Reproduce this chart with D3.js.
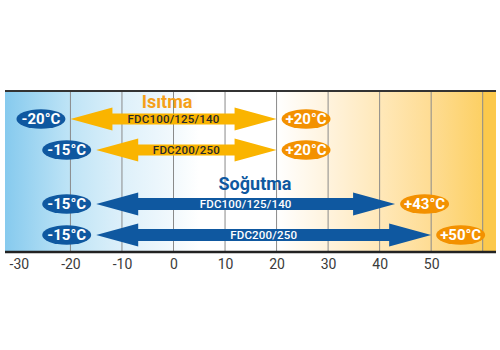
<!DOCTYPE html>
<html>
<head>
<meta charset="utf-8">
<script src="https://cdn.jsdelivr.net/npm/d3@7"></script>
<style>
  body { margin: 0; background: #fff; }
  text { font-family: Roboto, "DejaVu Sans", sans-serif; }
</style>
</head>
<body>
<svg id="chart"></svg>
<script>
// data
const heatModels = ["FDC100/125/140", "FDC200/250"];
const heatMin = [-20, -15];
const heatMax = [20, 20];
const coolModels = ["FDC100/125/140", "FDC200/250"];
const coolMin = [-15, -15];
const coolMax = [43, 50];
const tickValues = [-30, -20, -10, 0, 10, 20, 30, 40, 50];
const gridValues = [-20, -10, 0, 10, 20, 30, 40, 50, 60];

const w = 500;
const h = 350;
const plotLeft = 5, plotRight = 496, plotTop = 91, plotBottom = 252;
const orange = "#fab400";
const blue = "#0f58a0";
const pillOrange = "#f39100";

const svg = d3.select("#chart").attr("width", w).attr("height", h);

const x = d3.scaleLinear().domain([-30, 60]).range([18.9, 482.7]);

// background gradient
const defs = svg.append("defs");
const grad = defs.append("linearGradient")
  .attr("id", "bg")
  .attr("gradientUnits", "userSpaceOnUse")
  .attr("x1", plotLeft).attr("x2", plotRight).attr("y1", 0).attr("y2", 0);
[
  [plotLeft, "#86caee"], [x(-20), "#bfe4f6"], [x(-10), "#ddf0fa"], [x(0), "#f2f9fd"],
  [x(5), "#ffffff"], [x(20), "#ffffff"], [x(30), "#fff3dd"], [x(40), "#ffe8b9"],
  [x(50), "#fedc93"], [x(60) - 0.5, "#fcd064"], [x(60) + 0.5, "#fcc94c"], [plotRight, "#fcc94c"]
].forEach(([px, c]) => {
  grad.append("stop")
    .attr("offset", (px - plotLeft) / (plotRight - plotLeft))
    .attr("stop-color", c);
});

svg.append("rect")
  .attr("x", plotLeft).attr("y", plotTop)
  .attr("width", plotRight - plotLeft).attr("height", plotBottom - plotTop)
  .attr("fill", "url(#bg)");

// gridlines
svg.append("g")
  .selectAll("line")
  .data(gridValues)
  .join("line")
  .attr("x1", d => x(d)).attr("x2", d => x(d))
  .attr("y1", plotTop).attr("y2", plotBottom)
  .attr("stroke", "#8a8a8a")
  .attr("stroke-width", 1);

// top and bottom border
svg.append("line")
  .attr("x1", plotLeft).attr("x2", plotRight).attr("y1", plotTop).attr("y2", plotTop)
  .attr("stroke", "#333").attr("stroke-width", 2);
svg.append("line")
  .attr("x1", plotLeft).attr("x2", plotRight).attr("y1", plotBottom).attr("y2", plotBottom)
  .attr("stroke", "#222").attr("stroke-width", 2.5);

// axis labels
const xAxis = d3.axisBottom(x).tickValues(tickValues).tickSize(0).tickPadding(6)
  .tickFormat(d3.format("d"));
const axisG = svg.append("g")
  .attr("transform", "translate(0," + (plotBottom + 1) + ")")
  .call(xAxis);
axisG.select(".domain").remove();
axisG.selectAll("text")
  .attr("font-size", 14)
  .attr("fill", "#3a3a3a")
  .style("font-family", "Roboto, sans-serif")
  .text(d => d < 0 ? "-" + Math.abs(d) : d);

// rows
const rows = [
  { model: heatModels[0], lo: heatMin[0], hi: heatMax[0], color: orange, textColor: "#2a2a2a", y: 119, shaft: 11 },
  { model: heatModels[1], lo: heatMin[1], hi: heatMax[1], color: orange, textColor: "#2a2a2a", y: 150, shaft: 11 },
  { model: coolModels[0], lo: coolMin[0], hi: coolMax[0], color: blue, textColor: "#ffffff", y: 204, shaft: 12 },
  { model: coolModels[1], lo: coolMin[1], hi: coolMax[1], color: blue, textColor: "#ffffff", y: 235, shaft: 12 },
];

const headLen = 42, headH = 23;
function arrowPath(x0, x1, y, s) {
  const hs = s / 2, hh = headH / 2;
  return [
    [x0, y], [x0 + headLen, y - hh], [x0 + headLen, y - hs],
    [x1 - headLen, y - hs], [x1 - headLen, y - hh], [x1, y],
    [x1 - headLen, y + hh], [x1 - headLen, y + hs],
    [x0 + headLen, y + hs], [x0 + headLen, y + hh]
  ].map(p => p.join(",")).join(" ");
}

const rowG = svg.append("g").selectAll("g").data(rows).join("g");

rowG.append("polygon")
  .attr("points", d => arrowPath(x(d.lo), x(d.hi), d.y, d.shaft))
  .attr("fill", d => d.color);

rowG.append("text")
  .attr("x", d => (x(d.lo) + x(d.hi)) / 2)
  .attr("y", d => d.y)
  .attr("dy", "0.36em")
  .attr("text-anchor", "middle")
  .attr("font-size", 11.5)
  .attr("font-weight", 500)
  .attr("letter-spacing", 0.2)
  .attr("fill", d => d.textColor)
  .text(d => d.model);

// pills
const pillRx = 24.5, pillRy = 9.8, gap = 5;
function pill(g, cx, cy, fill, label) {
  g.append("ellipse")
    .attr("cx", cx).attr("cy", cy)
    .attr("rx", pillRx).attr("ry", pillRy)
    .attr("fill", fill);
  g.append("text")
    .attr("x", cx).attr("y", cy)
    .attr("dy", "0.36em")
    .attr("text-anchor", "middle")
    .attr("font-size", 15)
    .attr("font-weight", 700)
    .attr("fill", "#fff")
    .text(label);
}
rowG.each(function (d) {
  const g = d3.select(this);
  pill(g, x(d.lo) - gap - pillRx, d.y, blue, d.lo + "°C");
  pill(g, x(d.hi) + gap + pillRx, d.y, pillOrange, "+" + d.hi + "°C");
});

// titles
svg.append("text")
  .attr("x", 167).attr("y", 108)
  .attr("text-anchor", "middle")
  .attr("font-size", 18)
  .attr("font-weight", 700)
  .attr("fill", "#f5a01a")
  .text("Isıtma");
svg.append("text")
  .attr("x", 255).attr("y", 190)
  .attr("text-anchor", "middle")
  .attr("font-size", 18)
  .attr("font-weight", 700)
  .attr("fill", blue)
  .text("Soğutma");
</script>
</body>
</html>
